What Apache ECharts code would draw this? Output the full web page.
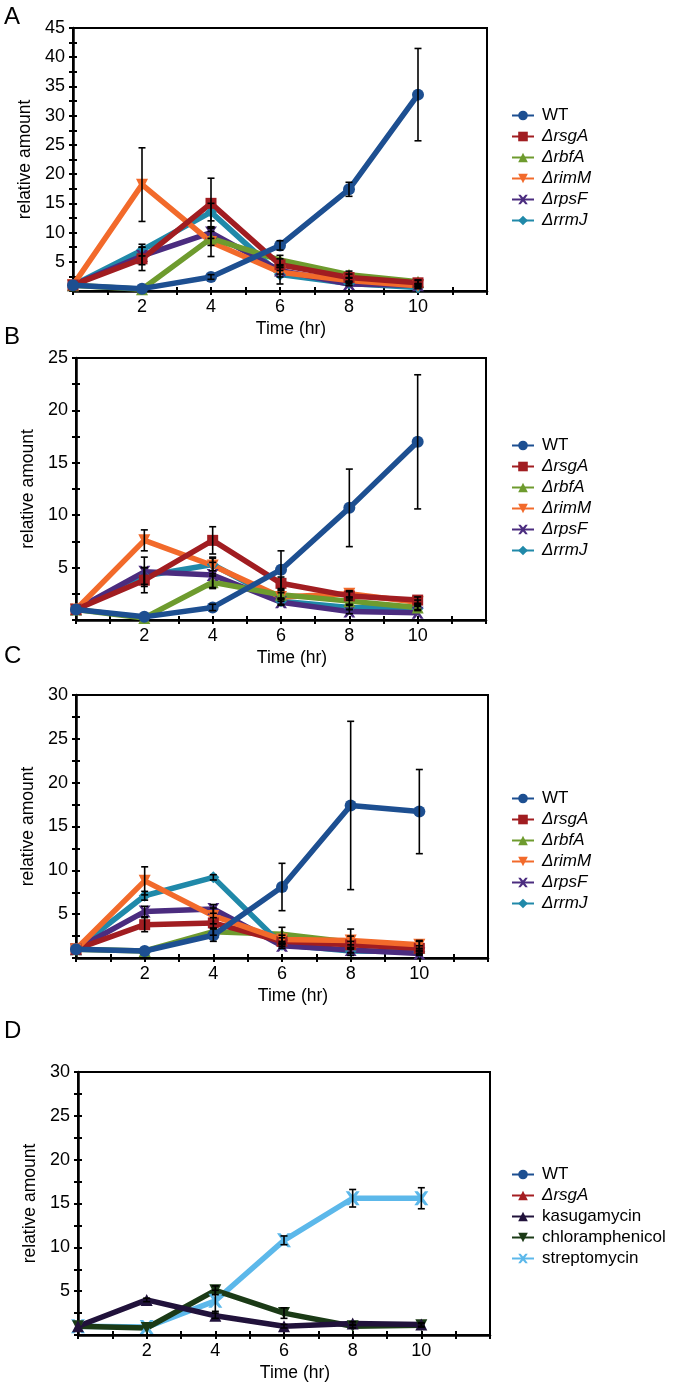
<!DOCTYPE html>
<html><head><meta charset="utf-8">
<script src="https://cdn.jsdelivr.net/npm/echarts@6/dist/echarts.min.js"></script>
<style>html,body{margin:0;padding:0;background:#fff}#c{width:675px;height:1386px}</style>
</head><body><div id="c"></div>
<script>
// ---- data ----
const times = [0, 2, 4, 6, 8, 10];
const xTickLabels = ['2', '4', '6', '8', '10'];
const panelLetters = ['A', 'B', 'C', 'D'];
const yMaxes = [45, 25, 30, 30];

const namesABC = ['WT', 'ΔrsgA', 'ΔrbfA', 'ΔrimM', 'ΔrpsF', 'ΔrrmJ'];
const namesD = ['WT', 'ΔrsgA', 'kasugamycin', 'chloramphenicol', 'streptomycin'];

// Panel A
const A_WT   = [1, 0.4, 2.4, 7.8, 17.4, 33.6];
const A_rsgA = [1, 5.5, 15.0, 4.5, 2.3, 1.4];
const A_rbfA = [1, 0.3, 9.0, 5.3, 2.8, 1.6];
const A_rimM = [1, 18.2, 8.4, 3.2, 1.8, 0.9];
const A_rpsF = [1, 6.0, 10.0, 3.5, 1.2, 1.0];
const A_rrmJ = [1, 7.0, 13.5, 2.8, 1.3, 0.6];
const A_WT_err   = [0, 0.1, 0.4, 0.8, 1.2, 7.9];
const A_rsgA_err = [0, 2.0, 4.3, 1.0, 0.6, 0.4];
const A_rbfA_err = [0, 0.1, 1.2, 0.8, 0.6, 0.3];
const A_rimM_err = [0, 6.3, 2.5, 0.8, 0.5, 0.3];
const A_rpsF_err = [0, 1.5, 1.0, 0.6, 0.3, 0.2];
const A_rrmJ_err = [0, 1.0, 1.5, 1.6, 0.3, 0.2];

// Panel B
const B_WT   = [1, 0.3, 1.2, 4.8, 10.7, 17.0];
const B_rsgA = [1, 3.8, 7.6, 3.5, 2.3, 1.9];
const B_rbfA = [1, 0.2, 3.6, 2.4, 1.8, 1.2];
const B_rimM = [1, 7.6, 5.2, 2.2, 2.5, 1.7];
const B_rpsF = [1, 4.6, 4.3, 1.7, 0.8, 0.7];
const B_rrmJ = [1, 4.2, 5.3, 1.8, 1.2, 1.1];
const B_WT_err   = [0, 0.1, 0.3, 1.8, 3.7, 6.4];
const B_rsgA_err = [0, 1.2, 1.3, 0.6, 0.4, 0.3];
const B_rbfA_err = [0, 0.1, 0.6, 0.4, 0.3, 0.2];
const B_rimM_err = [0, 1.0, 0.8, 0.4, 0.3, 0.2];
const B_rpsF_err = [0, 1.4, 1.2, 0.3, 0.2, 0.1];
const B_rrmJ_err = [0, 0.8, 0.6, 0.3, 0.2, 0.2];

// Panel C
const C_WT   = [1, 0.8, 2.6, 8.1, 17.4, 16.7];
const C_rsgA = [1, 3.8, 4.0, 1.9, 1.5, 1.1];
const C_rbfA = [1, 0.8, 3.0, 2.7, 1.8, 1.2];
const C_rimM = [1, 8.8, 4.8, 2.1, 2.0, 1.5];
const C_rpsF = [1, 5.3, 5.6, 1.4, 0.9, 0.5];
const C_rrmJ = [1, 7.1, 9.2, 1.5, 0.8, 0.7];
const C_WT_err   = [0, 0.1, 0.7, 2.7, 9.6, 4.8];
const C_rsgA_err = [0, 0.8, 0.6, 0.4, 0.4, 0.3];
const C_rbfA_err = [0, 0.1, 0.4, 0.8, 1.5, 0.8];
const C_rimM_err = [0, 1.6, 0.9, 0.5, 0.5, 0.4];
const C_rpsF_err = [0, 0.6, 0.5, 0.3, 0.3, 0.2];
const C_rrmJ_err = [0, 0.5, 0.3, 0.2, 0.2, 0.2];

// Panel D (WT and ΔrsgA appear only in the legend)
const D_WT   = [];
const D_rsgA = [];
const D_kas  = [1, 4.0, 2.2, 1.0, 1.3, 1.2];
const D_chl  = [1, 0.8, 5.1, 2.5, 1.0, 1.1];
const D_str  = [1, 0.9, 3.9, 10.8, 15.6, 15.6];
const D_WT_err   = [];
const D_rsgA_err = [];
const D_kas_err  = [0, 0.2, 0.3, 0.2, 0.2, 0.2];
const D_chl_err  = [0, 0.1, 0.5, 0.6, 0.2, 0.2];
const D_str_err  = [0, 0.1, 1.2, 0.5, 1.0, 1.2];

// ---- styles ----
const FONT = "'Liberation Sans', Arial, Helvetica, sans-serif";
const X_SYM = 'path://M0,0L2.5,0L5,3L7.5,0L10,0L6.5,5L10,10L7.5,10L5,7L2.5,10L0,10L3.5,5Z';
const stylesABC = [
  {color: '#1d4f91', symbol: 'circle', rot: 0, size: 12},
  {color: '#a11d21', symbol: 'rect', rot: 0, size: 11},
  {color: '#6e9b2e', symbol: 'triangle', rot: 0, size: 12},
  {color: '#f26a2b', symbol: 'triangle', rot: 180, size: 12},
  {color: '#4b2c7f', symbol: X_SYM, rot: 0, size: 12},
  {color: '#2089a9', symbol: 'diamond', rot: 0, size: 12}
];
const stylesD = [
  {color: '#1d4f91', symbol: 'circle', rot: 0, size: 12},
  {color: '#a51e22', symbol: 'triangle', rot: 0, size: 12},
  {color: '#21123b', symbol: 'triangle', rot: 0, size: 12},
  {color: '#1b3a16', symbol: 'triangle', rot: 180, size: 12},
  {color: '#5cb8ea', symbol: X_SYM, rot: 0, size: 14}
];

const panels = [
  {names: namesABC, styles: stylesABC, vals: [A_WT, A_rsgA, A_rbfA, A_rimM, A_rpsF, A_rrmJ],
   errs: [A_WT_err, A_rsgA_err, A_rbfA_err, A_rimM_err, A_rpsF_err, A_rrmJ_err],
   grid: {left: 73, top: 28, width: 414, height: 263}, legendTop: 102, letterTop: 5,
   order: [5, 4, 3, 2, 1, 0]},
  {names: namesABC, styles: stylesABC, vals: [B_WT, B_rsgA, B_rbfA, B_rimM, B_rpsF, B_rrmJ],
   errs: [B_WT_err, B_rsgA_err, B_rbfA_err, B_rimM_err, B_rpsF_err, B_rrmJ_err],
   grid: {left: 76, top: 358, width: 410, height: 262}, legendTop: 432, letterTop: 325,
   order: [5, 4, 3, 2, 1, 0]},
  {names: namesABC, styles: stylesABC, vals: [C_WT, C_rsgA, C_rbfA, C_rimM, C_rpsF, C_rrmJ],
   errs: [C_WT_err, C_rsgA_err, C_rbfA_err, C_rimM_err, C_rpsF_err, C_rrmJ_err],
   grid: {left: 76, top: 695, width: 412, height: 263}, legendTop: 785, letterTop: 644,
   order: [2, 5, 4, 1, 3, 0]},
  {names: namesD, styles: stylesD, vals: [D_WT, D_rsgA, D_kas, D_chl, D_str],
   errs: [D_WT_err, D_rsgA_err, D_kas_err, D_chl_err, D_str_err],
   grid: {left: 78, top: 1072, width: 412, height: 263}, legendTop: 1161, letterTop: 1019,
   order: [0, 1, 4, 3, 2]}
];

function renderErr(params, api) {
  const x = api.value(0), lo = api.value(1), hi = api.value(2);
  const p1 = api.coord([x, lo]), p2 = api.coord([x, hi]);
  const w = 3.5, st = {stroke: '#000', lineWidth: 1.6};
  return {type: 'group', children: [
    {type: 'line', shape: {x1: p1[0], y1: p1[1], x2: p2[0], y2: p2[1]}, style: st},
    {type: 'line', shape: {x1: p1[0] - w, y1: p1[1], x2: p1[0] + w, y2: p1[1]}, style: st},
    {type: 'line', shape: {x1: p2[0] - w, y1: p2[1], x2: p2[0] + w, y2: p2[1]}, style: st}
  ]};
}

const option = {
  animation: false,
  backgroundColor: '#fff',
  textStyle: {fontFamily: FONT},
  grid: [], xAxis: [], yAxis: [], series: [], legend: [], graphic: []
};

panels.forEach((p, g) => {
  option.grid.push(Object.assign({show: true, borderColor: '#000', borderWidth: 2, backgroundColor: 'transparent'}, p.grid));
  const xBase = {type: 'value', gridIndex: g, min: 0, max: 12, interval: 2, position: 'bottom',
    minorTick: {show: true, splitNumber: 2, length: 4, lineStyle: {color: '#000', width: 2}},
    splitLine: {show: false}, minorSplitLine: {show: false}};
  option.xAxis.push(Object.assign({}, xBase, {
    axisLine: {show: true, onZero: false, lineStyle: {color: '#000', width: 2.5}},
    axisTick: {show: true, inside: false, length: 4, lineStyle: {color: '#000', width: 2}},
    axisLabel: {show: true, margin: 7, color: '#000', fontSize: 18, fontFamily: FONT,
      formatter: v => xTickLabels.indexOf(String(v)) >= 0 ? String(v) : ''},
    name: 'Time (hr)', nameLocation: 'middle', nameGap: 29,
    nameTextStyle: {color: '#000', fontSize: 17.5, fontFamily: FONT, padding: [0, 0, 0, 22]}
  }));
  option.xAxis.push(Object.assign({}, xBase, {
    axisLine: {show: false},
    axisTick: {show: true, inside: true, length: 4, lineStyle: {color: '#000', width: 2}},
    minorTick: {show: true, splitNumber: 2, length: 4, lineStyle: {color: '#000', width: 2}},
    axisLabel: {show: false}
  }));
  const yBase = {type: 'value', gridIndex: g, min: 0, max: yMaxes[g], interval: 5, position: 'left',
    minorTick: {show: true, splitNumber: 2, length: 4, lineStyle: {color: '#000', width: 2}},
    splitLine: {show: false}, minorSplitLine: {show: false}};
  option.yAxis.push(Object.assign({}, yBase, {
    axisLine: {show: true, onZero: false, lineStyle: {color: '#000', width: 2.5}},
    axisTick: {show: true, inside: false, length: 4, lineStyle: {color: '#000', width: 2}},
    axisLabel: {show: true, margin: 8, color: '#000', fontSize: 18, fontFamily: FONT,
      formatter: v => v === 0 ? '' : String(v)},
    name: 'relative amount', nameLocation: 'middle', nameGap: 39,
    nameTextStyle: {color: '#000', fontSize: 17.5, fontFamily: FONT}
  }));
  option.yAxis.push(Object.assign({}, yBase, {
    axisLine: {show: false},
    axisTick: {show: true, inside: true, length: 4, lineStyle: {color: '#000', width: 2}},
    axisLabel: {show: false}
  }));

  const legendData = [];
  p.names.forEach((n, i) => {
    legendData.push({name: panelLetters[g] + '|' + n,
      textStyle: {fontStyle: n.charAt(0) === 'Δ' ? 'italic' : 'normal'}});
  });
  p.order.forEach(i => {
    const s = p.styles[i];
    const vals = p.vals[i];
    option.series.push({
      type: 'line', name: panelLetters[g] + '|' + p.names[i],
      xAxisIndex: 2 * g, yAxisIndex: 2 * g,
      data: vals.map((v, k) => [times[k], v]),
      symbol: s.symbol, symbolRotate: s.rot, symbolSize: s.size, showAllSymbol: true,
      lineStyle: {color: s.color, width: 5.5},
      itemStyle: {color: s.color, borderWidth: 0},
      z: 2 + (i === 0 ? 1 : 0)
    });
  });
  const errData = [];
  p.vals.forEach((vals, i) => {
    vals.forEach((v, k) => {
      const e = p.errs[i][k];
      if (e > 0.15) errData.push([times[k], v - e, v + e]);
    });
  });
  option.series.push({
    type: 'custom', name: 'err' + g, xAxisIndex: 2 * g, yAxisIndex: 2 * g,
    renderItem: renderErr, encode: {x: 0, y: [1, 2]}, data: errData, z: 10, silent: true
  });
  option.legend.push({
    orient: 'vertical', left: 506, top: p.legendTop, itemWidth: 22, itemHeight: 12, itemGap: 4,
    data: legendData, selectedMode: false,
    formatter: name => name.split('|')[1],
    textStyle: {color: '#000', fontSize: 17, fontFamily: FONT, lineHeight: 16, padding: [0, 0, 0, 3]}
  });
  option.graphic.push({type: 'text', left: 4, top: p.letterTop,
    style: {text: panelLetters[g], fontSize: 24, fontFamily: FONT, fill: '#000'}});
});

const chart = echarts.init(document.getElementById('c'), null, {renderer: 'canvas'});
chart.setOption(option);
</script>
</body></html>
